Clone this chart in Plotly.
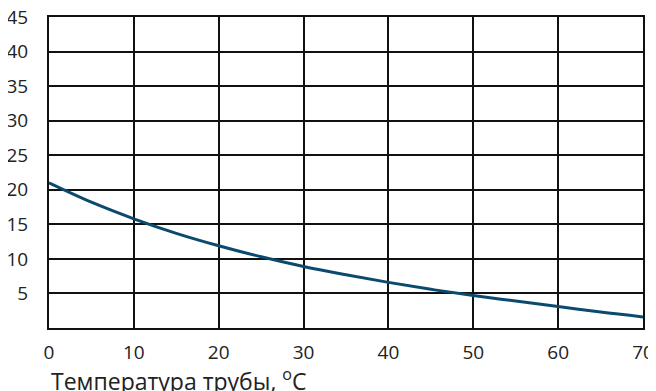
import plotly.graph_objects as go

temps = [0, 5, 10, 15, 20, 25, 30, 35, 40, 45, 50, 55, 60, 65, 70]
values = [21.0, 18.2, 15.8, 13.7, 11.9, 10.3, 8.9, 7.7, 6.6, 5.6, 4.7, 3.9, 3.1, 2.3, 1.6]
x_ticks = [0, 10, 20, 30, 40, 50, 60, 70]
y_ticks = [5, 10, 15, 20, 25, 30, 35, 40, 45]
x_title = "Температура трубы, <sup>o</sup>C"

fig = go.Figure()
fig.add_trace(go.Scatter(x=temps, y=values, mode="lines",
                         line=dict(color="#0b4a6e", width=3, shape="spline"),
                         showlegend=False, hoverinfo="skip"))

font = dict(family="Open Sans", size=19, color="#222222")
# page is drawn with an 8px body margin, so the figure is 8px smaller and offset
fig.update_layout(
    width=648, height=383,
    margin=dict(l=41, r=13, t=9, b=63, autoexpand=False),
    paper_bgcolor="white", plot_bgcolor="white",
    font=font,
    xaxis=dict(range=[0, 70], tickvals=x_ticks, showgrid=True, gridcolor="#111111", gridwidth=2,
               showline=True, linecolor="#111111", linewidth=2, mirror=True, automargin=False,
               zeroline=False, ticks="", ticklabelstandoff=6, tickfont=font,
               ticklabeloverflow="allow"),
    yaxis=dict(range=[0, 45], tickvals=y_ticks, showgrid=True, gridcolor="#111111", gridwidth=2,
               showline=True, linecolor="#111111", linewidth=2, mirror=True, automargin=False,
               zeroline=False, ticks="", ticklabelstandoff=15, tickfont=font,
               ticklabeloverflow="allow"),
    annotations=[dict(text=x_title, xref="paper", yref="paper", x=0.0, y=-0.167,
                      xanchor="left", yanchor="middle", showarrow=False,
                      font=dict(family="Open Sans", size=23, color="#222222"))],
)
fig.write_html("out.html")
